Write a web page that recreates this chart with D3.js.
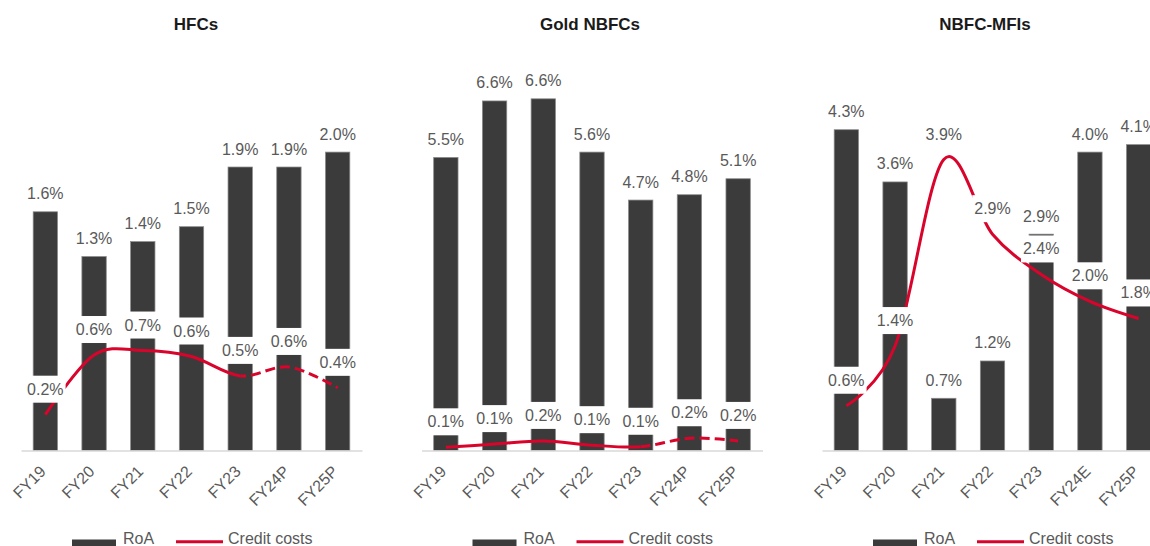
<!DOCTYPE html>
<html><head><meta charset="utf-8">
<script src="https://cdn.jsdelivr.net/npm/d3@7"></script>
<style>
html,body{margin:0;padding:0;background:#fff;}
svg{display:block;font-family:"Liberation Sans",Arial,sans-serif;}
</style></head><body>
<svg id="chart" width="1150" height="546"></svg>
<script>
// ---- data ----
const titles = ["HFCs", "Gold NBFCs", "NBFC-MFIs"];
const yearsHFC = ["FY19", "FY20", "FY21", "FY22", "FY23", "FY24P", "FY25P"];
const yearsGold = ["FY19", "FY20", "FY21", "FY22", "FY23", "FY24P", "FY25P"];
const yearsMFI = ["FY19", "FY20", "FY21", "FY22", "FY23", "FY24E", "FY25P"];
const roaHFC = [1.6, 1.3, 1.4, 1.5, 1.9, 1.9, 2.0];
const creditHFC = [0.24, 0.64, 0.67, 0.63, 0.50, 0.56, 0.42];
const roaGold = [5.5, 6.56, 6.6, 5.6, 4.7, 4.8, 5.1];
const creditGold = [0.06, 0.12, 0.18, 0.10, 0.07, 0.23, 0.18];
const roaMFI = [4.3, 3.6, 0.7, 1.2, 2.9, 4.0, 4.1];
const creditMFI = [0.6, 1.4, 3.9, 2.9, 2.36, 2.0, 1.77];
const axisMax = [2.5, 7, 5];
const dashedFrom = ["FY23", "FY23", null];
const legendLabels = ["RoA", "Credit costs"];

// ---- layout / style ----
const panels = [
  {x0: 0, titleX: 196, years: yearsHFC, roa: roaHFC, credit: creditHFC},
  {x0: 400.5, titleX: 590, years: yearsGold, roa: roaGold, credit: creditGold},
  {x0: 801, titleX: 985, years: yearsMFI, roa: roaMFI, credit: creditMFI}
];
const BAR = "#3b3b3b", RED = "#d9042b", TXT = "#595959";
const fmt = v => d3.format(".1f")(v) + "%";
const svg = d3.select("#chart");

panels.forEach((p, k) => {
  const g = svg.append("g").attr("transform", `translate(${p.x0},0)`);
  const x = d3.scaleBand().domain(p.years).range([21, 362]).paddingInner(0.5).paddingOuter(0.25);
  const y = d3.scaleLinear().domain([0, axisMax[k]]).range([450.5, 77.5]);
  const bw = x.bandwidth();
  const cx = d => x(d) + bw / 2;

  // title
  svg.append("text").attr("x", p.titleX).attr("y", 30).attr("text-anchor", "middle")
    .attr("font-size", 17).attr("font-weight", "bold").attr("fill", "#1a1a1a").text(titles[k]);

  // bars
  g.selectAll("rect.bar").data(p.years).join("rect").attr("class", "bar")
    .attr("x", d => x(d)).attr("width", bw)
    .attr("y", (d, i) => y(p.roa[i])).attr("height", (d, i) => y(0) - y(p.roa[i]))
    .attr("fill", BAR).attr("stroke", "#8a8a8a").attr("stroke-width", 0.75);

  // axis
  const ax = g.append("g").attr("transform", "translate(0,450.5)")
    .call(d3.axisBottom(x).tickSize(0).tickSizeOuter(0));
  ax.select(".domain").attr("stroke", "#d9d9d9").attr("stroke-width", 1.5);
  ax.selectAll("text").attr("x", 0).attr("y", 0).attr("dy", 0)
    .attr("transform", "translate(1.5,22) rotate(-45)").attr("text-anchor", "end")
    .attr("font-size", 16).attr("font-family", "Liberation Sans, Arial, sans-serif").attr("fill", TXT);

  // credit line
  const line = d3.line().x((d, i) => cx(p.years[i])).y(d => y(d)).curve(d3.curveCardinal.tension(0));
  const pathD = line(p.credit);
  if (dashedFrom[k]) {
    const split = cx(dashedFrom[k]);
    const defs = svg.append("defs");
    defs.append("clipPath").attr("id", "cs" + k).append("rect")
      .attr("x", -50).attr("y", 0).attr("width", split + 50).attr("height", 546);
    defs.append("clipPath").attr("id", "cd" + k).append("rect")
      .attr("x", split).attr("y", 0).attr("width", 500).attr("height", 546);
    g.append("path").attr("d", pathD).attr("fill", "none").attr("stroke", RED)
      .attr("stroke-width", 3).attr("clip-path", `url(#cs${k})`);
    g.append("path").attr("d", pathD).attr("fill", "none").attr("stroke", RED)
      .attr("stroke-width", 3).attr("stroke-dasharray", "10,5").attr("clip-path", `url(#cd${k})`);
  } else {
    g.append("path").attr("d", pathD).attr("fill", "none").attr("stroke", RED).attr("stroke-width", 3);
  }

  // RoA labels
  g.selectAll("text.roa").data(p.years).join("text").attr("class", "roa")
    .attr("x", d => cx(d)).attr("y", (d, i) => y(p.roa[i]) - 12.5)
    .attr("text-anchor", "middle").attr("font-size", 16).attr("fill", TXT)
    .text((d, i) => fmt(p.roa[i]));

  // credit labels with white boxes
  p.years.forEach((d, i) => {
    const lg = g.append("g");
    const bg = lg.append("rect").attr("fill", "#fff");
    const t = lg.append("text").attr("x", cx(d)).attr("y", y(p.credit[i]) - 20)
      .attr("text-anchor", "middle").attr("font-size", 16).attr("fill", TXT)
      .text(fmt(p.credit[i]));
    const w = t.node().getComputedTextLength() + 4;
    bg.attr("x", cx(d) - w / 2).attr("y", y(p.credit[i]) - 39).attr("width", w).attr("height", 27);
  });

  // legend
  const lgd = g.append("g");
  lgd.append("rect").attr("x", 72).attr("y", 539.5).attr("width", 44).attr("height", 9).attr("fill", BAR);
  lgd.append("text").attr("x", 123).attr("y", 543.5).attr("font-size", 16).attr("fill", TXT).text(legendLabels[0]);
  lgd.append("line").attr("x1", 176).attr("x2", 223).attr("y1", 541.7).attr("y2", 541.7)
    .attr("stroke", RED).attr("stroke-width", 3);
  lgd.append("text").attr("x", 228).attr("y", 543.5).attr("font-size", 16).attr("fill", TXT).text(legendLabels[1]);
});
</script>
</body></html>
